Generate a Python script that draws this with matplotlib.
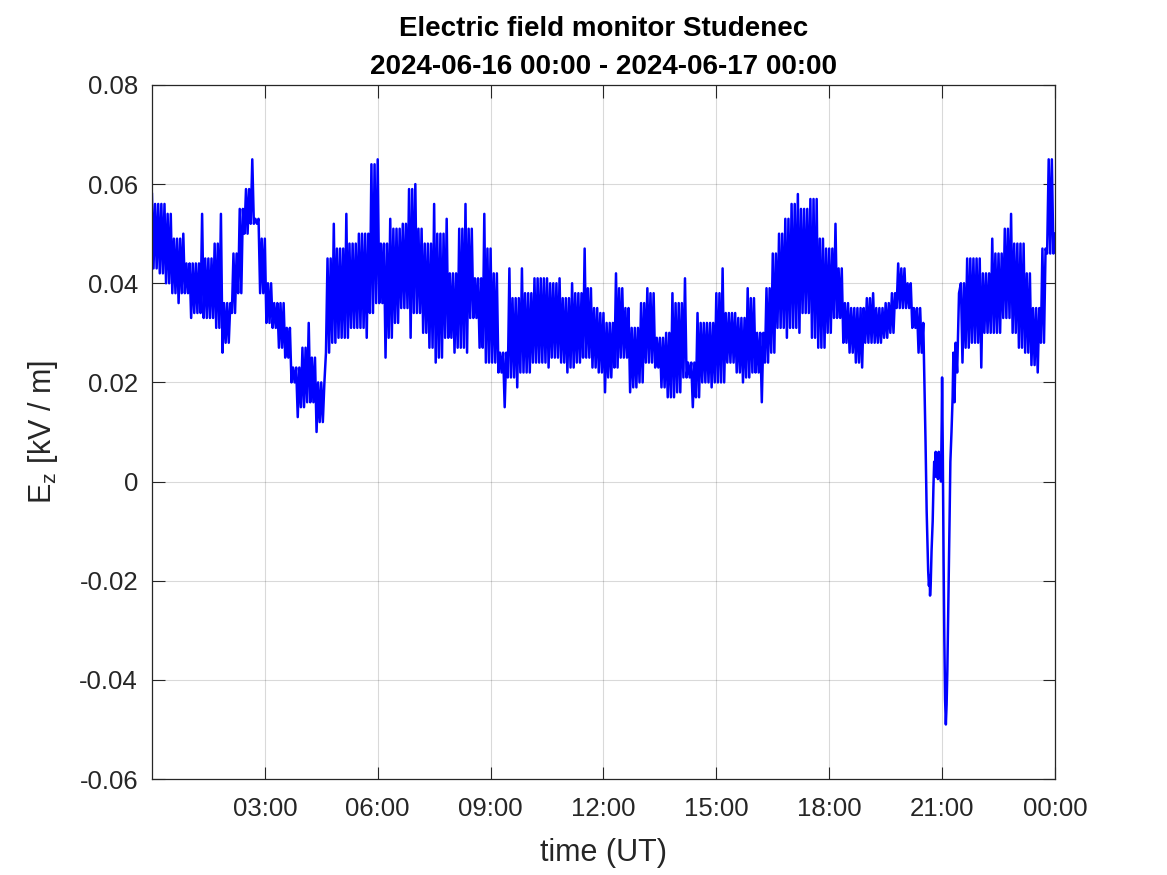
import numpy as np
import matplotlib
matplotlib.use("Agg")
import matplotlib.pyplot as plt

# upper / lower envelope of E_z [kV/m], one pair per 10 minutes (00:00 - 20:20)
hi_day = [0.058, 0.056, 0.056, 0.054, 0.049, 0.050,
          0.044, 0.044, 0.054, 0.045, 0.048, 0.054,
          0.036, 0.046, 0.055, 0.059, 0.065, 0.053,
          0.049, 0.040, 0.036, 0.036, 0.031, 0.023,
          0.027, 0.032, 0.025, 0.020, 0.045, 0.052,
          0.047, 0.054, 0.048, 0.050, 0.050, 0.064,
          0.065, 0.048, 0.053, 0.051, 0.052, 0.059,
          0.060, 0.051, 0.048, 0.056, 0.050, 0.053,
          0.042, 0.051, 0.056, 0.051, 0.041, 0.054,
          0.047, 0.042, 0.026, 0.043, 0.037, 0.043,
          0.038, 0.041, 0.041, 0.041, 0.040, 0.041,
          0.037, 0.040, 0.038, 0.047, 0.039, 0.035,
          0.034, 0.032, 0.042, 0.039, 0.035, 0.031,
          0.036, 0.039, 0.038, 0.029, 0.030, 0.038,
          0.036, 0.041, 0.024, 0.034, 0.032, 0.032,
          0.038, 0.043, 0.034, 0.034, 0.033, 0.039,
          0.037, 0.030, 0.039, 0.046, 0.050, 0.053,
          0.056, 0.058, 0.055, 0.057, 0.057, 0.049,
          0.047, 0.052, 0.043, 0.036, 0.035, 0.035,
          0.037, 0.038, 0.035, 0.036, 0.038, 0.044,
          0.043, 0.040, 0.035]
lo_day = [0.043, 0.042, 0.040, 0.038, 0.036, 0.038,
          0.033, 0.034, 0.033, 0.033, 0.031, 0.026,
          0.028, 0.034, 0.038, 0.050, 0.052, 0.038,
          0.032, 0.031, 0.027, 0.025, 0.020, 0.013,
          0.015, 0.016, 0.010, 0.012, 0.026, 0.028,
          0.029, 0.029, 0.031, 0.031, 0.029, 0.034,
          0.036, 0.025, 0.029, 0.032, 0.035, 0.029,
          0.034, 0.030, 0.027, 0.024, 0.025, 0.029,
          0.026, 0.027, 0.026, 0.033, 0.027, 0.024,
          0.024, 0.022, 0.015, 0.021, 0.019, 0.022,
          0.022, 0.024, 0.024, 0.023, 0.025, 0.024,
          0.022, 0.023, 0.024, 0.025, 0.023, 0.022,
          0.018, 0.021, 0.023, 0.025, 0.018, 0.019,
          0.020, 0.024, 0.023, 0.019, 0.017, 0.017,
          0.018, 0.021, 0.015, 0.017, 0.020, 0.019,
          0.020, 0.020, 0.024, 0.022, 0.020, 0.021,
          0.022, 0.016, 0.024, 0.026, 0.031, 0.029,
          0.031, 0.030, 0.034, 0.029, 0.027, 0.027,
          0.030, 0.033, 0.028, 0.026, 0.024, 0.023,
          0.028, 0.028, 0.028, 0.029, 0.030, 0.035,
          0.035, 0.031, 0.026]

# the thunderstorm dip, 20:30 - 21:27
dip_hours = [20.50, 20.53, 20.56, 20.59, 20.61, 20.63, 20.65, 20.67, 20.68,
             20.70, 20.72, 20.75, 20.77, 20.79, 20.81, 20.83, 20.85, 20.87,
             20.89, 20.91, 20.93, 20.95, 20.97, 20.99, 21.00, 21.02, 21.04,
             21.06, 21.08, 21.10, 21.12, 21.14, 21.16, 21.18, 21.20, 21.22,
             21.25, 21.28, 21.30, 21.33, 21.36, 21.40, 21.45]
dip_ez = [0.032, 0.020, 0.008, -0.006, -0.012, -0.018, -0.021, -0.019, -0.023,
          -0.020, -0.014, -0.008, -0.001, 0.004, 0.001, 0.006, 0.001, 0.005,
          0.0005, 0.006, 0.001, 0.005, 0.000, 0.012, 0.021, 0.005, -0.016,
          -0.032, -0.044, -0.049, -0.045, -0.038, -0.028, -0.018, -0.007, 0.004,
          0.010, 0.017, 0.026, 0.016, 0.028, 0.022, 0.038]

# envelope again, 21:30 - 23:50, and the last sample at 24:00
hi_night = [0.040, 0.045, 0.045, 0.045, 0.042, 0.049, 0.046, 0.051,
            0.054, 0.048, 0.048, 0.042, 0.035, 0.047, 0.065]
lo_night = [0.024, 0.027, 0.028, 0.023, 0.030, 0.030, 0.030, 0.033,
            0.030, 0.027, 0.026, 0.0235, 0.022, 0.028, 0.046]
ez_end = 0.050

x_tick_hours = [3, 6, 9, 12, 15, 18, 21, 24]
x_tick_labels = ['03:00', '06:00', '09:00', '12:00', '15:00', '18:00', '21:00', '00:00']
y_ticks = [-0.06, -0.04, -0.02, 0, 0.02, 0.04, 0.06, 0.08]
y_tick_labels = ['-0.06', '-0.04', '-0.02', '0', '0.02', '0.04', '0.06', '0.08']


def envelope_series(hi, lo, start_hour):
    """swing between the read envelopes, 4 samples per 10 minutes"""
    t, v = [], []
    n = len(hi)
    for i in range(n):
        j = min(i + 1, n - 1)
        t0 = start_hour + i / 6
        t += [t0, t0 + 1 / 24, t0 + 2 / 24, t0 + 3 / 24]
        v += [hi[i], lo[i], min(hi[i], hi[j]), max(lo[i], lo[j])]
    return t, v


t1, v1 = envelope_series(hi_day, lo_day, 0.0)
t2, v2 = envelope_series(hi_night, lo_night, 21.5)
hours = np.array(t1 + dip_hours + t2 + [24.0])
ez = np.array(v1 + dip_ez + v2 + [ez_end])

plt.rcParams['font.family'] = ['Liberation Sans', 'DejaVu Sans']
plt.rcParams['axes.unicode_minus'] = False
plt.rcParams['mathtext.default'] = 'regular'

fig = plt.figure(figsize=(11.67, 8.75), dpi=100)
ax = fig.add_axes([0.1302, 0.1097, 0.7738, 0.7932])

ax.plot(hours, ez, color='#0000ff', linewidth=1.8)

ax.set_xlim(0, 24)
ax.set_ylim(-0.06, 0.08)
ax.set_xticks(x_tick_hours, labels=x_tick_labels)
ax.set_yticks(y_ticks, labels=y_tick_labels)

dark = '#262626'
ax.tick_params(direction='in', length=9, width=0.8, colors=dark, labelsize=18.5,
               top=True, right=True)
ax.tick_params(axis='x', pad=13)
ax.tick_params(axis='y', pad=10)
for s in ax.spines.values():
    s.set_color(dark)
    s.set_linewidth(0.9)
ax.grid(True, color='#000000', alpha=0.15, linewidth=0.8)
ax.set_axisbelow(True)

ax.set_xlabel('time (UT)', fontsize=22, color=dark, labelpad=12)
ax.set_ylabel('$E_z$ [kV / m]', fontsize=22, color=dark, labelpad=14)
ax.set_title('Electric field monitor Studenec\n2024-06-16 00:00 - 2024-06-17 00:00',
             fontsize=20, fontweight='bold', color='black', pad=8, linespacing=1.6)

fig.savefig('out.png', dpi=100)
